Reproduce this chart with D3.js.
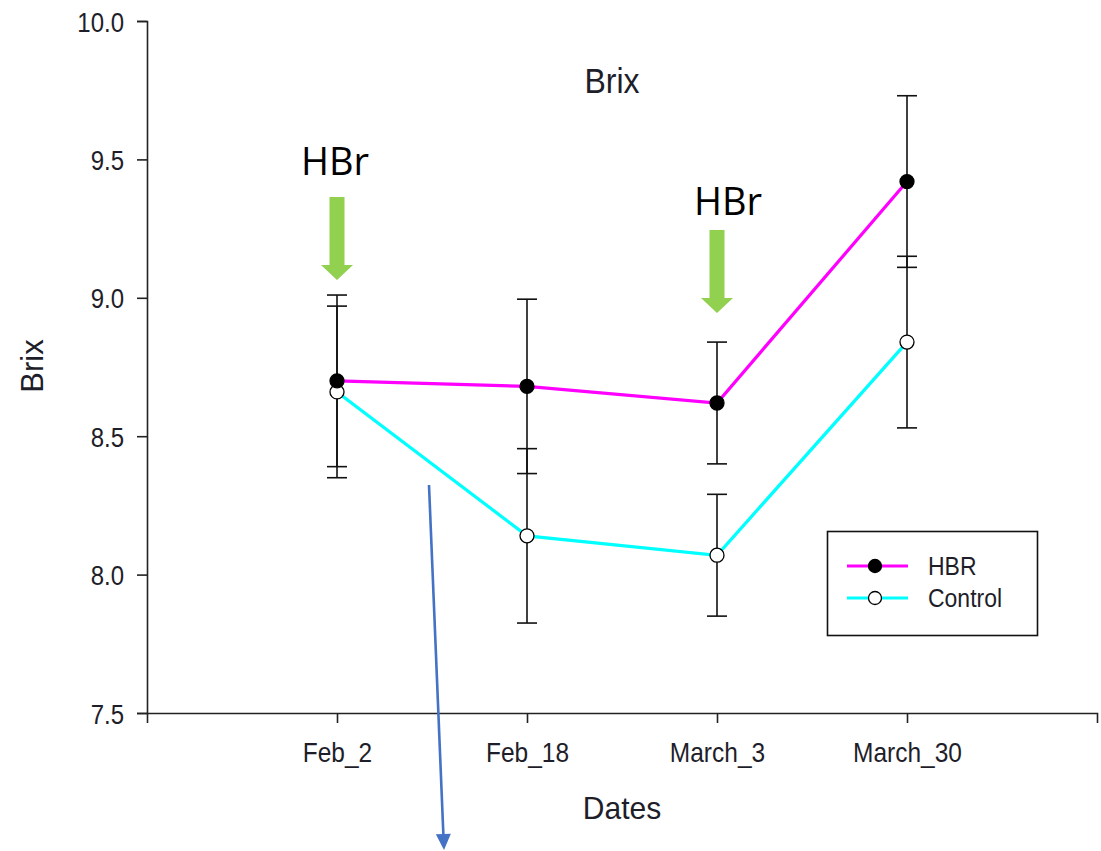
<!DOCTYPE html>
<html>
<head>
<meta charset="utf-8">
<script src="https://cdn.jsdelivr.net/npm/d3@7"></script>
<style>
  html, body { margin: 0; padding: 0; background: #fff; }
  svg { display: block; }
  text { font-family: Arial, "Liberation Sans", sans-serif; fill: #1e1e2a; }
</style>
</head>
<body>
<svg id="chart" width="1101" height="851"></svg>
<script>
// ---------- data ----------
const categories = ["Feb_2", "Feb_18", "March_3", "March_30"];
const hbrValues = [8.70, 8.68, 8.62, 9.42];
const hbrErrors = [0.31, 0.315, 0.22, 0.31];
const controlValues = [8.66, 8.14, 8.07, 8.84];
const controlErrors = [0.31, 0.315, 0.22, 0.31];
const yTicks = [7.5, 8.0, 8.5, 9.0, 9.5, 10.0];
const seriesNames = ["HBR", "Control"];
const arrowTargets = ["Feb_2", "March_3"]; // HBr application dates
const arrowLabel = "HBr";
const titleText = "Brix";
const xLabelText = "Dates";
const yLabelText = "Brix";

// ---------- helpers ----------
// vertically stretch text around its anchor y (the reference text is slightly tall)
function stretch(sel, s) {
  sel.each(function () {
    const t = d3.select(this);
    const yy = +t.attr("y") || 0;
    const prev = t.attr("transform") || "";
    t.attr("transform", `${prev} translate(0,${yy}) scale(1,${s}) translate(0,${-yy})`);
  });
}

// ---------- layout ----------
const svg = d3.select("#chart");
const x = d3.scaleLinear().domain([0, categories.length + 1]).range([147, 1097]);
const y = d3.scaleLinear().domain([7.5, 10]).range([713, 21]);
const xi = c => x(categories.indexOf(c) + 1);

// axes
const yAxis = d3.axisLeft(y).tickValues(yTicks).tickFormat(d3.format(".1f")).tickSizeOuter(0).tickSize(10).tickPadding(13);
const gy = svg.append("g").attr("transform", `translate(${x(0)},0)`).call(yAxis);
gy.selectAll("text").style("font-size", "24px").attr("fill", "#1e1e2a").attr("dy", "0.36em");
stretch(gy.selectAll("text"), 1.18);
gy.selectAll("line, path").attr("stroke", "#222").attr("stroke-width", 1.6);

const xAxis = d3.axisBottom(x).tickValues(categories.map((c, i) => i + 1))
  .tickFormat(d => categories[d - 1]).tickSizeOuter(0).tickSize(10);
const gx = svg.append("g").attr("transform", `translate(0,${y(7.5)})`).call(xAxis);
gx.selectAll("text").style("font-size", "24.5px").attr("fill", "#1e1e2a").attr("dy", 0).attr("y", 49);
stretch(gx.selectAll("text"), 1.1);
gx.selectAll("line, path").attr("stroke", "#222").attr("stroke-width", 1.6);

// titles
const title = svg.append("text").attr("x", 612).attr("y", 93).attr("text-anchor", "middle")
  .style("font-size", "32px").text(titleText);
stretch(title, 1.1);
const xl = svg.append("text").attr("x", 622).attr("y", 819).attr("text-anchor", "middle")
  .style("font-size", "30px").text(xLabelText);
stretch(xl, 1.06);
svg.append("text").attr("transform", "translate(43,366) rotate(-90)").attr("text-anchor", "middle")
  .style("font-size", "31px").text(yLabelText);

// series
const series = [
  { name: seriesNames[0], values: hbrValues, errors: hbrErrors, color: "#ff00ff", fill: "#000" },
  { name: seriesNames[1], values: controlValues, errors: controlErrors, color: "#00ffff", fill: "#fff" }
];

const line = d3.line().x((d, i) => x(i + 1)).y(d => y(d));
series.forEach(s => {
  svg.append("path").datum(s.values).attr("d", line)
    .attr("fill", "none").attr("stroke", s.color).attr("stroke-width", 3.2);
});

// error bars
series.forEach(s => {
  const g = svg.append("g").attr("stroke", "#111").attr("stroke-width", 1.6);
  s.values.forEach((v, i) => {
    const cx = x(i + 1), hi = y(v + s.errors[i]), lo = y(v - s.errors[i]);
    g.append("line").attr("x1", cx).attr("x2", cx).attr("y1", hi).attr("y2", lo);
    g.append("line").attr("x1", cx - 10).attr("x2", cx + 10).attr("y1", hi).attr("y2", hi);
    g.append("line").attr("x1", cx - 10).attr("x2", cx + 10).attr("y1", lo).attr("y2", lo);
  });
});

// markers
series.slice().reverse().forEach(s => {
  svg.append("g").selectAll("circle").data(s.values).join("circle")
    .attr("cx", (d, i) => x(i + 1)).attr("cy", d => y(d)).attr("r", 7)
    .attr("fill", s.fill).attr("stroke", "#000").attr("stroke-width", 1.3);
});

// legend
const lg = svg.append("g");
lg.append("rect").attr("x", 827.5).attr("y", 531.5).attr("width", 210).attr("height", 104)
  .attr("fill", "#fff").attr("stroke", "#111").attr("stroke-width", 1.6);
series.forEach((s, i) => {
  const ly = 566 + i * 32;
  lg.append("line").attr("x1", 847).attr("x2", 908).attr("y1", ly).attr("y2", ly)
    .attr("stroke", s.color).attr("stroke-width", 3.2);
  lg.append("circle").attr("cx", 875).attr("cy", ly).attr("r", 6.5)
    .attr("fill", s.fill).attr("stroke", "#000").attr("stroke-width", 1.3);
  const t = lg.append("text").attr("x", 928).attr("y", ly + 9.5).style("font-size", "23px").text(s.name);
  stretch(t, 1.15);
});

// green "HBr" arrows
const arrowSpecs = [
  { cat: arrowTargets[0], labelBase: 175, top: 197, dx: -2 },
  { cat: arrowTargets[1], labelBase: 215, top: 230, dx: 11 }
];
arrowSpecs.forEach(a => {
  const cx = xi(a.cat);
  const shaftEnd = a.top + 68, tip = a.top + 83;
  svg.append("path")
    .attr("d", `M${cx - 7.5},${a.top} L${cx + 7.5},${a.top} L${cx + 7.5},${shaftEnd} L${cx + 16},${shaftEnd} L${cx},${tip} L${cx - 16},${shaftEnd} L${cx - 7.5},${shaftEnd} Z`)
    .attr("fill", "#92d050");
  svg.append("text").attr("x", cx + a.dx).attr("y", a.labelBase)
    .attr("text-anchor", "middle")
    .style("font-family", "'Open Sans', 'Noto Sans', sans-serif").style("font-size", "38px")
    .style("fill", "#000").text(arrowLabel);
});

// blue pointer arrow
const bx1 = 429, by1 = 485, bx2 = 444, by2 = 850;
const ang = Math.atan2(by2 - by1, bx2 - bx1);
const hl = 16, hw = 7.5;
const bxBase = bx2 - hl * Math.cos(ang), byBase = by2 - hl * Math.sin(ang);
svg.append("line").attr("x1", bx1).attr("y1", by1).attr("x2", bxBase).attr("y2", byBase)
  .attr("stroke", "#4472c4").attr("stroke-width", 2.6);
svg.append("path")
  .attr("d", `M${bx2},${by2} L${bxBase + hw * Math.sin(ang)},${byBase - hw * Math.cos(ang)} L${bxBase - hw * Math.sin(ang)},${byBase + hw * Math.cos(ang)} Z`)
  .attr("fill", "#4472c4");
</script>
</body>
</html>
